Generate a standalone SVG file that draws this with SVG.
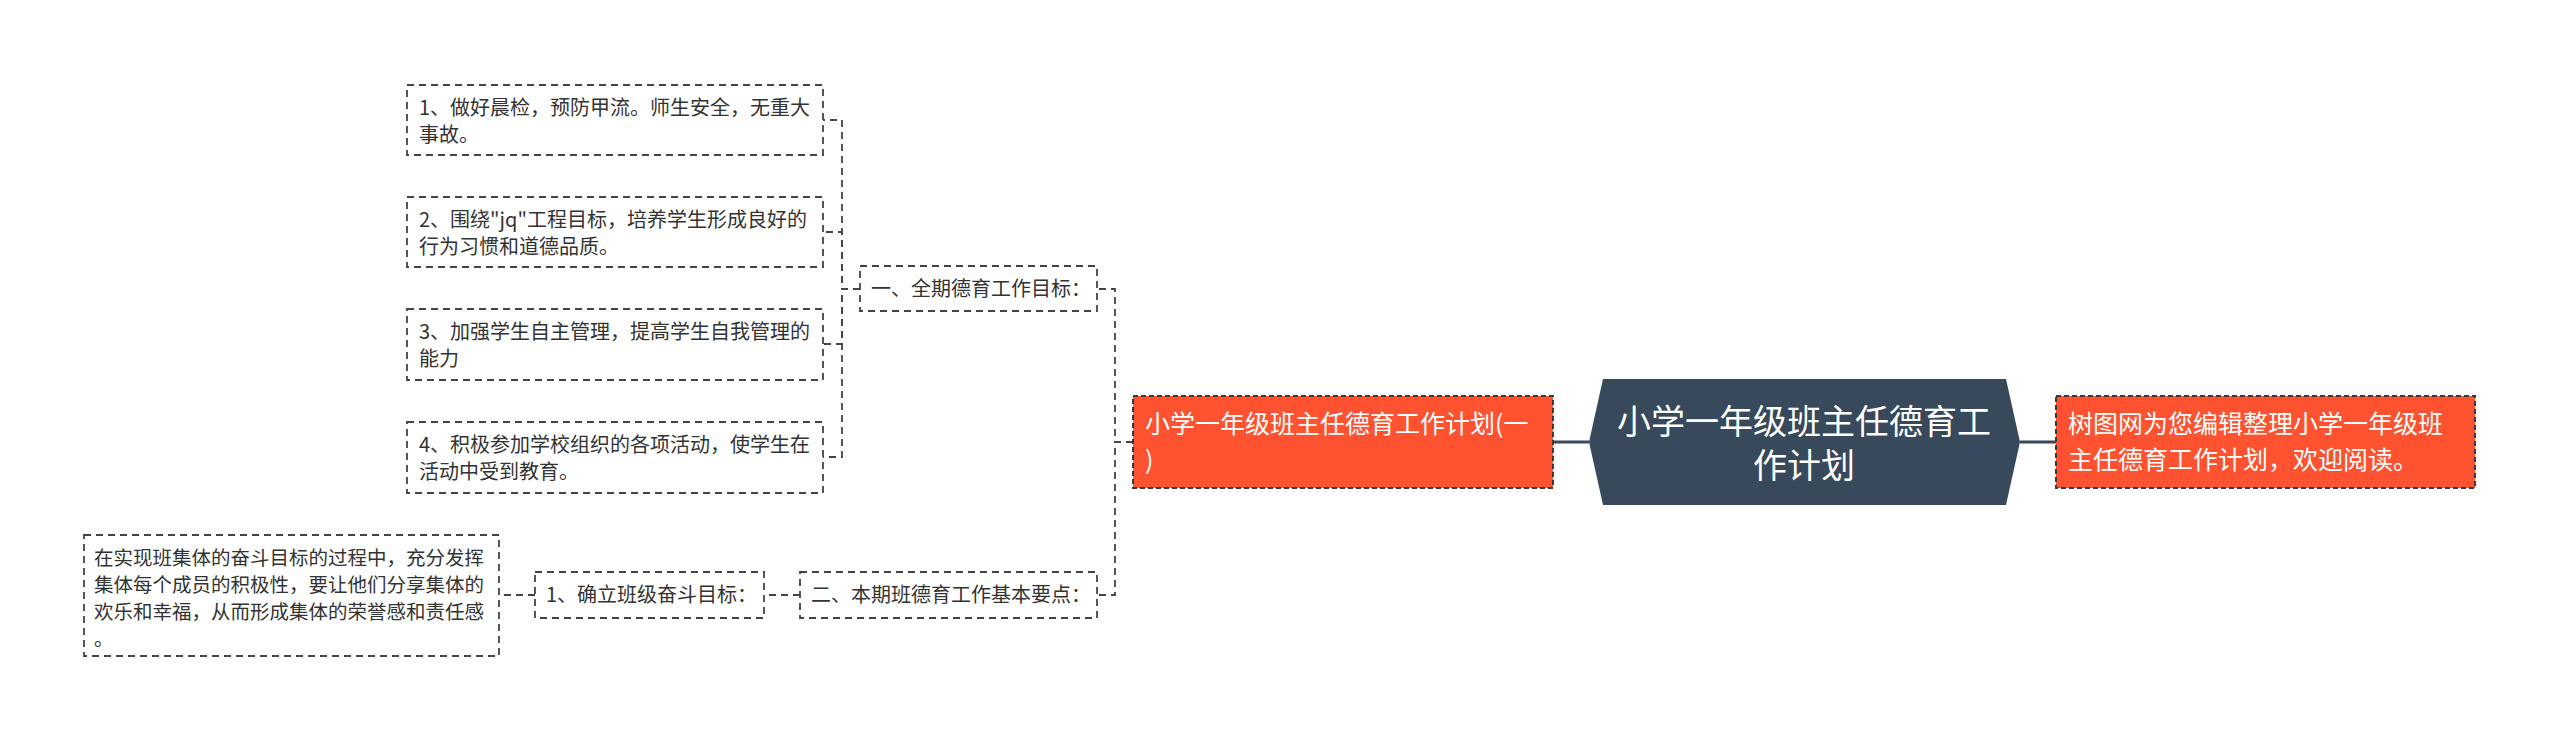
<svg xmlns="http://www.w3.org/2000/svg" width="2560" height="741" viewBox="0 0 2560 741">
<style>
.t{font-family:"Noto Sans CJK SC","Microsoft YaHei",sans-serif;}
.s{font-size:20px;fill:#333333;}
.sb{font-size:19.5px;fill:#333333;}
.o{font-size:25px;fill:#ffffff;}
.r{font-size:34px;fill:#ffffff;}
.box{fill:#ffffff;stroke:#444444;stroke-width:1.8;stroke-dasharray:7,5;}
.obox{fill:#FF5230;stroke:#3a3a3a;stroke-width:2;stroke-dasharray:5,3;}
.c{fill:none;stroke:#444444;stroke-width:1.8;stroke-dasharray:7,5;}
.cm{fill:none;stroke:#37495A;stroke-width:3;}
</style>
<rect width="2560" height="741" fill="#ffffff"/>
<g id="connectors">
<path class="cm" d="M1589,442 H1553"/>
<path class="cm" d="M2020,442 H2056"/>
<path class="c" d="M1133,442 H1115 V289 H1097"/>
<path class="c" d="M1133,442 H1115 V595 H1097"/>
<path class="c" d="M860,289 H842 V120 H823"/>
<path class="c" d="M860,289 H842 V232 H823"/>
<path class="c" d="M860,289 H842 V344 H823"/>
<path class="c" d="M860,289 H842 V457 H823"/>
<path class="c" d="M800,595 H764"/>
<path class="c" d="M535,595 H499"/>
</g>
<g id="root">
<polygon points="1589,442 1603,379 2006,379 2020,442 2006,505 1603,505" fill="#37495A"/>
<text class="t r" x="1804" y="434" text-anchor="middle">小学一年级班主任德育工</text>
<text class="t r" x="1804" y="478" text-anchor="middle">作计划</text>
</g>
<g id="intro">
<rect class="obox" x="2056" y="396" width="419" height="92"/>
<text class="t o" x="2068" y="433">树图网为您编辑整理小学一年级班</text>
<text class="t o" x="2068" y="469">主任德育工作计划，欢迎阅读。</text>
</g>
<g id="plan1">
<rect class="obox" x="1133" y="396" width="420" height="92"/>
<text class="t o" x="1145" y="433">小学一年级班主任德育工作计划(一</text>
<text class="t o" x="1145" y="469">)</text>
</g>
<g id="goal">
<rect class="box" x="860" y="266" width="237" height="45"/>
<text class="t s" x="871" y="296">一、全期德育工作目标：</text>
</g>
<g id="g1">
<rect class="box" x="407" y="85" width="416" height="70"/>
<text class="t s" x="419" y="115">1、做好晨检，预防甲流。师生安全，无重大</text>
<text class="t s" x="419" y="142">事故。</text>
</g>
<g id="g2">
<rect class="box" x="407" y="197" width="416" height="70"/>
<text class="t s" x="419" y="227">2、围绕"jq"工程目标，培养学生形成良好的</text>
<text class="t s" x="419" y="254">行为习惯和道德品质。</text>
</g>
<g id="g3">
<rect class="box" x="407" y="309" width="416" height="71"/>
<text class="t s" x="419" y="339">3、加强学生自主管理，提高学生自我管理的</text>
<text class="t s" x="419" y="366">能力</text>
</g>
<g id="g4">
<rect class="box" x="407" y="422" width="416" height="71"/>
<text class="t s" x="419" y="452">4、积极参加学校组织的各项活动，使学生在</text>
<text class="t s" x="419" y="479">活动中受到教育。</text>
</g>
<g id="points">
<rect class="box" x="800" y="572" width="297" height="46"/>
<text class="t s" x="811" y="602">二、本期班德育工作基本要点：</text>
</g>
<g id="p1">
<rect class="box" x="535" y="572" width="229" height="46"/>
<text class="t s" x="546" y="602">1、确立班级奋斗目标：</text>
</g>
<g id="p1d">
<rect class="box" x="84" y="535" width="415" height="121"/>
<text class="t sb" x="94" y="565">在实现班集体的奋斗目标的过程中，充分发挥</text>
<text class="t sb" x="94" y="592">集体每个成员的积极性，要让他们分享集体的</text>
<text class="t sb" x="94" y="619">欢乐和幸福，从而形成集体的荣誉感和责任感</text>
<text class="t sb" x="94" y="646">。</text>
</g>
</svg>
